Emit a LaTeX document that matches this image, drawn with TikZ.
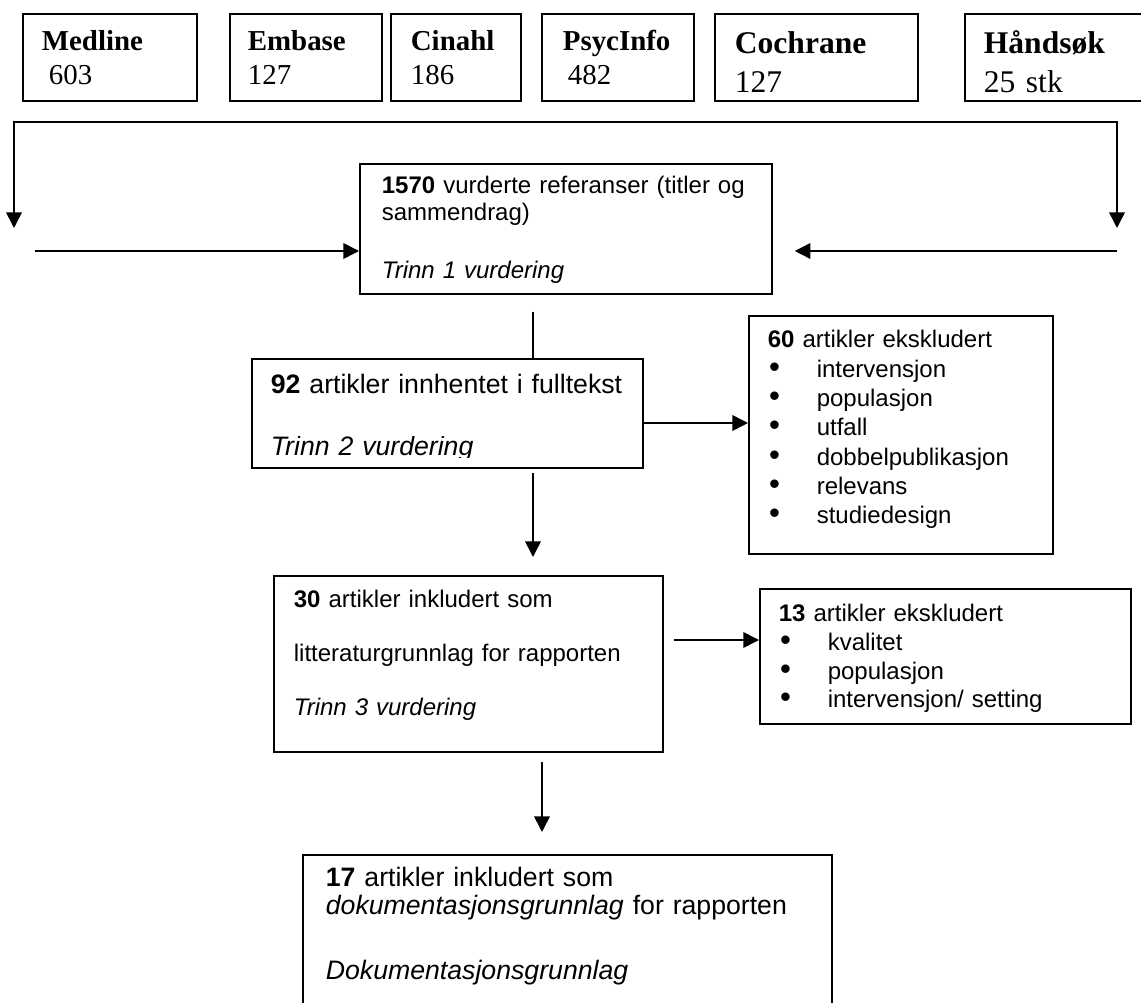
\documentclass[tikz,border=0pt]{standalone}
\usepackage{fontspec}
\setmainfont{Liberation Serif}
\newfontfamily\arialfont{Liberation Sans}
\usepackage{trimclip}
\usetikzlibrary{arrows.meta}
\newdimen\pxu \pxu=0.45pt
\newcommand{\srcfont}{\fontsize{13pt}{15pt}\selectfont}
\newcommand{\srcbig}{\fontsize{14.2pt}{17.5pt}\selectfont}
\newcommand{\flowsmall}{\arialfont\fontsize{10.8pt}{12.2pt}\selectfont}
\newcommand{\flowlarge}{\arialfont\fontsize{12pt}{12.4pt}\selectfont}
\newcommand{\bitem}[1]{\hspace*{0.6pt}\makebox[21.4pt][l]{\fontsize{14pt}{0pt}\selectfont\textbullet}#1}
\tikzstyle{srcblock} = [draw, line width=0.8pt, anchor=north west, align=left,
    inner xsep=19\pxu, inner ysep=0pt, text height=37\pxu, text depth=50\pxu, font=\srcfont]
\tikzstyle{stepblock} = [draw, line width=0.8pt, anchor=north west, align=left,
    inner xsep=20\pxu, inner ysep=0pt, font=\flowsmall]
\tikzstyle{arr} = [line width=0.7pt, -{Triangle[length=7pt, width=7pt]}]

\begin{document}
\begin{tikzpicture}[x=0.45pt, y=-0.45pt]
    \useasboundingbox (0,0) rectangle (1141,1003);
    \clip (0,0) rectangle (1141,1003);
    % databases
    \node [srcblock, text width=136\pxu] (medline) at (22,13) {\textbf{Medline}\\\hspace*{7\pxu}603};
    \node [srcblock, inner xsep=18\pxu, text width=116\pxu] (embase) at (229,13) {\textbf{Embase}\\127};
    \node [srcblock, inner xsep=20\pxu, text width=90\pxu] (cinahl) at (390,13) {\textbf{Cinahl}\\186};
    \node [srcblock, inner xsep=21\pxu, text width=110\pxu] (psycinfo) at (541,13) {\textbf{PsycInfo}\\\hspace*{5\pxu}482};
    \node [srcblock, inner xsep=20\pxu, text width=163\pxu, text height=40\pxu, text depth=47\pxu, font=\srcbig] (cochrane) at (714,13) {\textbf{Cochrane}\\127};
    \node [srcblock, text width=162\pxu, text height=40\pxu, text depth=47\pxu, font=\srcbig] (handsok) at (964,13) {\textbf{Håndsøk}\\25 stk};
    % screening steps
    \node [stepblock, inner xsep=22\pxu, text width=368\pxu, text height=30\pxu, text depth=100\pxu] (refs) at (359,163)
        {\textbf{1570} vurderte referanser (titler og\\sammendrag)\\[13.8pt]\textit{Trinn 1 vurdering}};
    \node [stepblock, inner xsep=19\pxu, text width=353\pxu, text height=35\pxu, text depth=74\pxu, font=\flowlarge] (fulltext) at (251,358)
        {\textbf{92} artikler innhentet i fulltekst\\[15.5pt]\clipbox{0pt 1.9pt 0pt 0pt}{\textit{Trinn 2 vurdering}}};
    \node [stepblock, inner xsep=19\pxu, text width=266\pxu, text height=32\pxu, text depth=206\pxu,
        font={\arialfont\fontsize{10.8pt}{13.2pt}\selectfont}] (excl60) at (748,315)
        {\textbf{60} artikler ekskludert\\\bitem{intervensjon}\\\bitem{populasjon}\\\bitem{utfall}\\
         \bitem{dobbelpublikasjon}\\\bitem{relevans}\\\bitem{studiedesign}};
    \node [stepblock, text width=349\pxu, text height=32\pxu, text depth=144\pxu] (incl30) at (273,575)
        {\textbf{30} artikler inkludert som\\[11.9pt]litteraturgrunnlag for rapporten\\[11.9pt]\textit{Trinn 3 vurdering}};
    \node [stepblock, inner xsep=19\pxu, text width=333\pxu, text height=33\pxu, text depth=102\pxu,
        font={\arialfont\fontsize{10.8pt}{12.9pt}\selectfont}] (excl13) at (759,588)
        {\textbf{13} artikler ekskludert\\\bitem{kvalitet}\\\bitem{populasjon}\\\bitem{intervensjon/ setting}};
    \node [stepblock, inner xsep=23\pxu, text width=483\pxu, text height=32\pxu, text depth=166\pxu, font=\flowlarge] (incl17) at (302,854)
        {\textbf{17} artikler inkludert som\\\textit{dokumentasjonsgrunnlag} for rapporten\\[17pt]\textit{Dokumentasjonsgrunnlag}};
    % helper coordinates
    \coordinate (jl) at (14,122);
    \coordinate (jr) at (1117,122);
    \coordinate (dl) at (14,228);
    \coordinate (dr) at (1117,228);
    \coordinate (el) at (35,251);
    \coordinate (er) at (1117,251);
    \coordinate (s1) at (533,0);
    \coordinate (s2) at (542,0);
    \coordinate (h1) at (0,423);
    \coordinate (h2) at (0,640);
    % Draw edges
    \draw [line width=0.7pt, {Triangle[length=7pt, width=7pt]}-{Triangle[length=7pt, width=7pt]}] (dl) -- (jl) -- (jr) -- (dr);
    \draw [arr] (el) -- (el -| refs.west);
    \draw [arr, shorten >=22\pxu] (er) -- (er -| refs.east);
    \draw [line width=0.7pt, shorten <=17\pxu] (refs.south -| s1) -- (fulltext.north -| s1);
    \draw [arr] (fulltext.east |- h1) -- (excl60.west |- h1);
    \draw [arr, shorten <=4\pxu, shorten >=18\pxu] (fulltext.south -| s1) -- (incl30.north -| s1);
    \draw [arr, shorten <=10\pxu] (incl30.east |- h2) -- (excl13.west |- h2);
    \draw [arr, shorten <=9\pxu, shorten >=22\pxu] (incl30.south -| s2) -- (incl17.north -| s2);
\end{tikzpicture}
\end{document}
